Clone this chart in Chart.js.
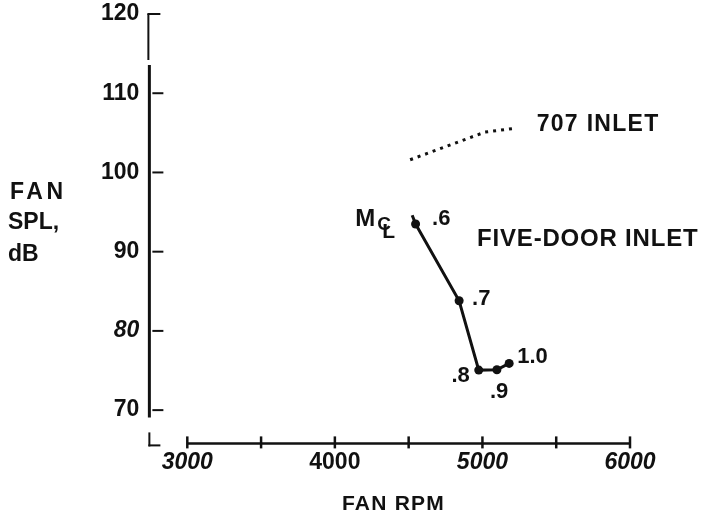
<!DOCTYPE html>
<html>
<head>
<meta charset="utf-8">
<script src="https://cdn.jsdelivr.net/npm/chart.js@4.4.1/dist/chart.umd.min.js"></script>
<style>
  html, body { margin: 0; padding: 0; background: #fff; }
  #wrap { width: 703px; height: 519px; }
</style>
</head>
<body>
<div id="wrap"><canvas id="chart" width="703" height="519"></canvas></div>
<script>
// Fan SPL vs fan RPM, five-door inlet against the 707 inlet.

const FIVE_DOOR_RPM = [4547, 4842, 4975, 5098, 5181];
const FIVE_DOOR_SPL = [93.5, 83.8, 75.05, 75.1, 75.9];
const FIVE_DOOR_MACH = ['.6', '.7', '.8', '.9', '1.0'];

// short leader from the .6 point up towards the M_CL label
const LEADER_RPM = [4524, 4547];
const LEADER_SPL = [94.6, 93.5];

const INLET_707_RPM = [4510, 5018, 5232];
const INLET_707_SPL = [101.6, 105.1, 105.6];

const X_TICKS = [3000, 3500, 4000, 4500, 5000, 5500, 6000];
const X_TICK_LABELS = ['3000', '', '4000', '', '5000', '', '6000'];
const Y_TICKS = [70, 80, 90, 100, 110, 120];
const Y_TICK_LABELS = ['70', '80', '90', '100', '110', '120'];

const ITALIC_TICKS = [3000, 5000, 6000, 80];

const INK = '#111';
const FONT = "'Liberation Sans', Arial, Helvetica, sans-serif";

function pairs(xs, ys) {
  return xs.map(function (x, i) { return { x: x, y: ys[i] }; });
}

function tickFont(ctx) {
  var italic = ctx.tick && ITALIC_TICKS.indexOf(ctx.tick.value) !== -1;
  return { family: FONT, size: 23, weight: 'bold', style: italic ? 'italic' : 'normal' };
}

function drawText(ctx, text, x, y, size, opts) {
  opts = opts || {};
  ctx.save();
  ctx.font = 'bold ' + size + 'px ' + FONT;
  ctx.letterSpacing = (opts.spacing || 0) + 'px';
  ctx.textAlign = opts.align || 'left';
  ctx.textBaseline = 'alphabetic';
  ctx.fillStyle = INK;
  ctx.fillText(text, x, y);
  ctx.restore();
}

function line(ctx, x1, y1, x2, y2, w) {
  ctx.beginPath();
  ctx.lineWidth = w;
  ctx.moveTo(x1, y1);
  ctx.lineTo(x2, y2);
  ctx.stroke();
}

// broken axes drawn by hand from the scales
const brokenAxes = {
  id: 'brokenAxes',
  beforeDatasetsDraw: function (chart) {
    var ctx = chart.ctx, xs = chart.scales.x, ys = chart.scales.y, a = chart.chartArea;
    var ax = a.left;
    ctx.save();
    ctx.strokeStyle = INK;
    ctx.lineCap = 'butt';

    // y axis: short top piece with cap, gap, then the long piece
    var top = ys.getPixelForValue(120);
    line(ctx, ax - 1, top, ax - 1, top + 46, 2);
    line(ctx, ax - 2, top, ax + 11, top, 2);
    line(ctx, ax, top + 51, ax, a.bottom - 26, 3);
    Y_TICKS.forEach(function (v) {
      if (v === 120) return;
      var py = ys.getPixelForValue(v);
      line(ctx, ax + 3, py, ax + 14, py, 2);
    });
    // corner mark below the break
    line(ctx, ax, a.bottom - 11, ax, a.bottom + 3, 2);
    line(ctx, ax - 1, a.bottom + 2, ax + 11, a.bottom + 2, 2);

    // x axis from 3000 to 6000
    var x0 = xs.getPixelForValue(X_TICKS[0]);
    var x1 = xs.getPixelForValue(X_TICKS[X_TICKS.length - 1]);
    line(ctx, x0, a.bottom, x1, a.bottom, 2.5);
    X_TICKS.forEach(function (v) {
      var px = xs.getPixelForValue(v);
      line(ctx, px, a.bottom - 7, px, a.bottom + 5, 2.5);
    });
    ctx.restore();
  },
  afterDraw: function (chart) {
    var ctx = chart.ctx;

    // axis titles
    drawText(ctx, 'FAN', 10, 199, 23, { spacing: 3.5 });
    drawText(ctx, 'SPL,', 8, 229, 23);
    drawText(ctx, 'dB', 8, 261, 23);
    drawText(ctx, 'FAN RPM', 342, 510, 21, { spacing: 1.2 });

    // mach number labels next to each point
    var pts = chart.getDatasetMeta(1).data;
    var offs = [[16.5, 1, 'left'], [13, 4, 'left'], [-9, 12, 'right'], [-7, 28, 'left'], [8, 0, 'left']];
    FIVE_DOOR_MACH.forEach(function (t, i) {
      var o = offs[i];
      drawText(ctx, t, pts[i].x + o[0], pts[i].y + o[1], 22, { align: o[2] });
    });

    // M with centerline subscript
    var lead = chart.getDatasetMeta(2).data[0];
    drawText(ctx, 'M', lead.x - 57, lead.y + 11, 24);
    drawText(ctx, 'C', lead.x - 35, lead.y + 15, 19);
    drawText(ctx, 'L', lead.x - 30, lead.y + 23, 21);

    var end707 = chart.getDatasetMeta(0).data[2];
    drawText(ctx, '707 INLET', end707.x + 20, end707.y + 3, 23, { spacing: 1.3 });
    drawText(ctx, 'FIVE-DOOR INLET', pts[0].x + 61.5, pts[0].y + 22, 24, { spacing: 0.8 });
  },
};

new Chart(document.getElementById('chart'), {
  type: 'scatter',
  data: {
    datasets: [{
      label: '707 INLET',
      data: pairs(INLET_707_RPM, INLET_707_SPL),
      showLine: true,
      borderColor: INK,
      borderWidth: 3,
      borderDash: [3, 5],
      pointRadius: 0,
    }, {
      label: 'FIVE-DOOR INLET',
      data: pairs(FIVE_DOOR_RPM, FIVE_DOOR_SPL),
      showLine: true,
      borderColor: INK,
      borderWidth: 3,
      pointRadius: 4.5,
      pointBackgroundColor: INK,
      pointBorderWidth: 0,
    }, {
      label: 'leader',
      data: pairs(LEADER_RPM, LEADER_SPL),
      showLine: true,
      borderColor: INK,
      borderWidth: 3,
      pointRadius: 0,
    }],
  },
  options: {
    responsive: false,
    animation: false,
    devicePixelRatio: 1,
    layout: { padding: { top: 14, right: 73, bottom: 38, left: 91 } },
    plugins: {
      legend: { display: false },
      tooltip: { enabled: false },
    },
    scales: {
      x: {
        type: 'linear',
        min: 2743,
        max: 6000,
        afterBuildTicks: function (scale) {
          scale.ticks = X_TICKS.map(function (v) { return { value: v }; });
        },
        grid: { display: false, drawTicks: false },
        border: { display: false },
        ticks: {
          color: INK,
          padding: 5,
          autoSkip: false,
          maxRotation: 0,
          font: tickFont,
          callback: function (value, index) { return X_TICK_LABELS[index]; },
        },
      },
      y: {
        type: 'linear',
        min: 65.8,
        max: 120,
        afterBuildTicks: function (scale) {
          scale.ticks = Y_TICKS.map(function (v) { return { value: v }; });
        },
        // the 120 label may sit in the top padding
        afterFit: function (scale) { scale.paddingTop = 0; },
        grid: { display: false, drawTicks: false },
        border: { display: false },
        ticks: {
          color: INK,
          padding: 10,
          font: tickFont,
          callback: function (value, index) { return Y_TICK_LABELS[index]; },
        },
      },
    },
  },
  plugins: [brokenAxes],
});
</script>
</body>
</html>
